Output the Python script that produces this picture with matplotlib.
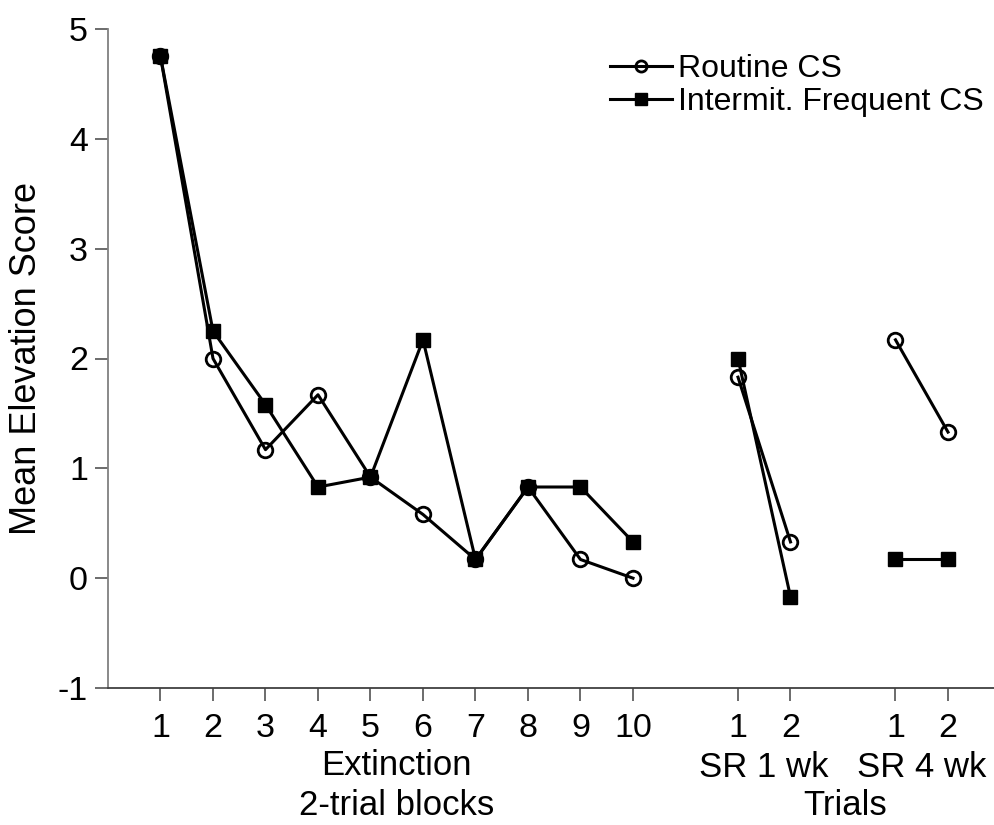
import matplotlib
matplotlib.use("Agg")
import matplotlib.pyplot as plt
from matplotlib.transforms import blended_transform_factory

plt.rcParams['font.family'] = ['Liberation Sans', 'DejaVu Sans']

# Data
ext_x = [1, 2, 3, 4, 5, 6, 7, 8, 9, 10]
sr1_x = [12, 13]
sr4_x = [15, 16]

routine_ext = [4.75, 2.0, 1.17, 1.67, 0.92, 0.58, 0.17, 0.83, 0.17, 0.0]
routine_sr1 = [1.83, 0.33]
routine_sr4 = [2.17, 1.33]

frequent_ext = [4.75, 2.25, 1.58, 0.83, 0.92, 2.17, 0.17, 0.83, 0.83, 0.33]
frequent_sr1 = [2.0, -0.17]
frequent_sr4 = [0.17, 0.17]

tick_pos = ext_x + sr1_x + sr4_x
tick_labels = ['1', '2', '3', '4', '5', '6', '7', '8', '9', '10', '1', '2', '1', '2']
y_ticks = [-1, 0, 1, 2, 3, 4, 5]

fig = plt.figure(figsize=(9.95, 8.25), dpi=100)
ax = fig.add_axes([108/995, (825-688)/825, (995-108)/995, 659/825])

circ = dict(color='black', lw=2.2, marker='o', markersize=10.5, markerfacecolor='none',
            markeredgewidth=2, markeredgecolor='black')
sq = dict(color='black', lw=2.2, marker='s', markersize=10, markerfacecolor='black',
          markeredgecolor='black')

ax.plot(ext_x, routine_ext, label='Routine CS', **circ)
ax.plot(sr1_x, routine_sr1, **circ)
ax.plot(sr4_x, routine_sr4, **circ)
ax.plot(ext_x, frequent_ext, label='Intermit. Frequent CS', **sq)
ax.plot(sr1_x, frequent_sr1, **sq)
ax.plot(sr4_x, frequent_sr4, **sq)

ax.set_xlim(0, (995-108)/52.5)
ax.set_ylim(-1, 5)
ax.set_xticks(tick_pos)
ax.set_xticklabels(tick_labels)
ax.set_yticks(y_ticks)
ax.set_yticklabels([str(v) for v in y_ticks])

for s in ['top', 'right']:
    ax.spines[s].set_visible(False)
ax.spines['left'].set_color('#808080')
ax.spines['left'].set_linewidth(1.3)
ax.spines['bottom'].set_color('#404040')
ax.spines['bottom'].set_linewidth(1.3)

ax.tick_params(axis='x', direction='out', length=9, width=1.3, color='#606060',
               labelsize=24.5, pad=9)
ax.tick_params(axis='y', direction='out', length=9.5, width=1.3, color='#606060',
               labelsize=24.5, pad=5)

ax.set_ylabel('Mean Elevation Score', fontsize=26, labelpad=10)

trans = blended_transform_factory(ax.transData, fig.transFigure)
def fy(py):
    return (825 - py) / 825
ax.text(5.5, fy(775), 'Extinction', transform=trans, ha='center', va='baseline', fontsize=25)
ax.text(5.5, fy(815), '2-trial blocks', transform=trans, ha='center', va='baseline', fontsize=25)
ax.text(12.5, fy(777), 'SR 1 wk', transform=trans, ha='center', va='baseline', fontsize=25)
ax.text(15.5, fy(777), 'SR 4 wk', transform=trans, ha='center', va='baseline', fontsize=25)
ax.text(14.05, fy(815), 'Trials', transform=trans, ha='center', va='baseline', fontsize=25)

leg = ax.legend(loc='upper left', bbox_to_anchor=(597/995, fy(41)),
                bbox_transform=fig.transFigure, frameon=False, fontsize=23,
                handlelength=1.94, handletextpad=0.19, labelspacing=0.1,
                borderaxespad=0.0, borderpad=0.4)
for h in leg.legend_handles:
    h.set_markersize(8)

fig.savefig('out.png', dpi=100)
